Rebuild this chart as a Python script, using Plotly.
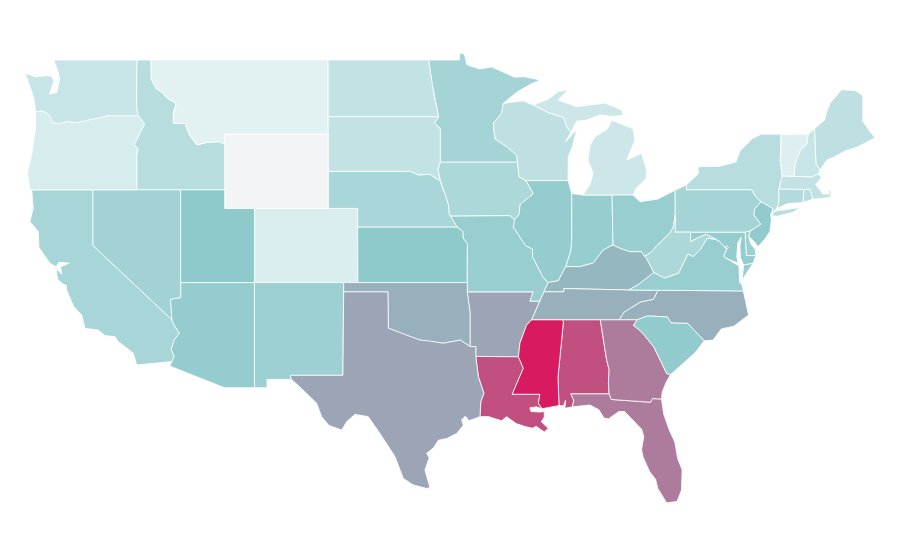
import plotly.graph_objects as go
from plotly.colors import sample_colorscale

states = ['AL', 'AZ', 'AR', 'CA', 'CO', 'CT', 'DE', 'FL', 'GA', 'ID', 'IL', 'IN', 'IA', 'KS', 'KY', 'LA',
          'ME', 'MD', 'MA', 'MI', 'MN', 'MS', 'MO', 'MT', 'NE', 'NV', 'NH', 'NJ', 'NM', 'NY', 'NC', 'ND',
          'OH', 'OK', 'OR', 'PA', 'RI', 'SC', 'SD', 'TN', 'TX', 'UT', 'VT', 'VA', 'WA', 'WV', 'WI', 'WY', 'DC']
values = [85, 46, 60, 36, 10, 30, 42, 72, 72, 28, 46, 45, 33, 49, 55, 85,
          24, 46, 22, 17, 37, 100, 44, 6, 35, 39, 20, 47, 42, 28, 57, 22,
          44, 57, 12, 37, 28, 47, 22, 57, 60, 49, 8, 44, 20, 33, 24, 0, 40]
colorscale = [[0, '#f3f4f6'], [0.02, '#eaf5f6'], [0.5, '#8cc8cb'], [1, '#d81b60']]

# state outlines, rough lon/lat rings (the us basemap is not reachable offline)
WA = [(-124.6, 48.3), (-123.93, 48.1), (-123.03, 48.15), (-122.75, 48.1), (-122.65, 47.85), (-122.95, 47.15), (-122.45, 47.25), (-122.35, 47.7), (-122.25, 48.0), (-122.4, 48.45), (-122.66, 49.0), (-117.03, 49.0), (-117.04, 46.42), (-116.92, 46.0), (-118.98, 46.0), (-119.3, 45.93), (-119.95, 45.83), (-120.6, 45.73), (-121.15, 45.62), (-121.75, 45.7), (-122.3, 45.55), (-122.75, 45.65), (-122.85, 45.9), (-123.15, 46.17), (-123.45, 46.25), (-123.88, 46.21), (-124.0, 46.9), (-124.15, 47.3), (-124.45, 47.9)]
OR = [(-123.88, 46.21), (-123.45, 46.25), (-123.15, 46.17), (-122.85, 45.9), (-122.75, 45.65), (-122.3, 45.55), (-121.75, 45.7), (-121.15, 45.62), (-120.6, 45.73), (-119.95, 45.83), (-119.3, 45.93), (-118.98, 46.0), (-116.92, 46.0), (-116.5, 45.55), (-116.85, 45.0), (-117.2, 44.45), (-116.95, 44.2), (-117.03, 43.83), (-117.03, 42.0), (-124.27, 42.0), (-124.45, 42.9), (-124.15, 43.9), (-124.0, 44.7), (-123.88, 45.4)]
ID = [(-117.03, 49.0), (-116.05, 49.0), (-116.05, 47.97), (-115.72, 47.45), (-115.3, 47.25), (-114.95, 46.93), (-114.35, 46.65), (-114.55, 46.15), (-114.55, 45.59), (-113.76, 45.59), (-113.45, 44.95), (-112.96, 44.42), (-112.3, 44.55), (-111.5, 44.6), (-111.05, 44.48), (-111.05, 42.0), (-117.03, 42.0), (-117.03, 43.83), (-116.95, 44.2), (-117.2, 44.45), (-116.85, 45.0), (-116.5, 45.55), (-116.92, 46.0), (-117.04, 46.42)]
MT = [(-116.05, 49.0), (-104.05, 49.0), (-104.05, 45.0), (-111.05, 45.0), (-111.05, 44.48), (-111.5, 44.6), (-112.3, 44.55), (-112.96, 44.42), (-113.45, 44.95), (-113.76, 45.59), (-114.55, 45.59), (-114.55, 46.15), (-114.35, 46.65), (-114.95, 46.93), (-115.3, 47.25), (-115.72, 47.45), (-116.05, 47.97)]
WY = [(-111.05, 45.0), (-104.05, 45.0), (-104.05, 41.0), (-111.05, 41.0)]
ND = [(-104.05, 49.0), (-97.23, 49.0), (-97.15, 48.5), (-97.05, 47.9), (-96.85, 47.0), (-96.56, 45.94), (-104.05, 45.94)]
SD = [(-104.05, 45.94), (-96.56, 45.94), (-96.85, 45.6), (-96.45, 45.3), (-96.45, 43.5), (-96.6, 43.1), (-96.45, 42.49), (-97.2, 42.85), (-97.9, 42.8), (-98.5, 43.0), (-104.05, 43.0)]
NE = [(-104.05, 43.0), (-98.5, 43.0), (-97.9, 42.8), (-97.2, 42.85), (-96.45, 42.49), (-96.35, 42.2), (-96.1, 41.7), (-95.9, 41.2), (-95.85, 40.7), (-95.77, 40.58), (-95.31, 40.0), (-102.05, 40.0), (-102.05, 41.0), (-104.05, 41.0)]
KS = [(-102.05, 40.0), (-95.31, 40.0), (-94.9, 39.75), (-94.9, 39.4), (-94.61, 39.1), (-94.62, 37.0), (-102.04, 37.0)]
CO = [(-109.05, 41.0), (-102.05, 41.0), (-102.05, 40.0), (-102.04, 37.0), (-109.05, 37.0)]
UT = [(-114.05, 42.0), (-111.05, 42.0), (-111.05, 41.0), (-109.05, 41.0), (-109.05, 37.0), (-114.05, 37.0)]
NV = [(-120.0, 42.0), (-114.05, 42.0), (-114.05, 36.2), (-114.75, 36.1), (-114.65, 35.0), (-120.0, 39.0)]
CA = [(-124.15, 42.0), (-120.0, 42.0), (-120.0, 39.0), (-114.65, 35.0), (-114.57, 34.8), (-114.15, 34.27), (-114.5, 33.9), (-114.7, 33.4), (-114.5, 33.0), (-114.66, 32.74), (-117.03, 32.56), (-117.26, 33.19), (-117.9, 33.6), (-118.28, 33.81), (-118.5, 34.08), (-119.2, 34.15), (-119.63, 34.44), (-120.54, 34.54), (-120.76, 35.25), (-121.3, 35.7), (-121.78, 36.6), (-121.8, 36.85), (-122.1, 36.95), (-122.4, 37.2), (-122.5, 37.75), (-122.1, 37.45), (-122.2, 37.85), (-121.6, 38.05), (-122.3, 38.1), (-122.5, 37.85), (-122.91, 38.04), (-123.66, 38.9), (-123.7, 39.74), (-124.27, 40.29), (-124.05, 41.0), (-124.15, 41.75)]
AZ = [(-114.05, 37.0), (-109.05, 37.0), (-109.05, 31.33), (-111.07, 31.33), (-114.8, 32.5), (-114.66, 32.74), (-114.5, 33.0), (-114.7, 33.4), (-114.5, 33.9), (-114.15, 34.27), (-114.57, 34.8), (-114.65, 35.0), (-114.75, 36.1), (-114.05, 36.2)]
NM = [(-109.05, 37.0), (-103.0, 37.0), (-103.05, 32.0), (-106.62, 32.0), (-106.53, 31.78), (-108.2, 31.78), (-108.2, 31.33), (-109.05, 31.33)]
OK = [(-103.0, 37.0), (-94.62, 37.0), (-94.62, 36.5), (-94.43, 35.4), (-94.43, 33.55), (-95.1, 33.9), (-96.25, 33.73), (-97.2, 33.85), (-97.83, 33.9), (-98.9, 34.2), (-99.97, 34.54), (-100.0, 36.5), (-103.0, 36.5)]
TX = [(-103.0, 36.5), (-100.0, 36.5), (-99.97, 34.54), (-98.9, 34.2), (-97.83, 33.9), (-97.2, 33.85), (-96.25, 33.73), (-95.1, 33.9), (-94.43, 33.55), (-94.04, 33.55), (-94.04, 33.02), (-93.87, 31.93), (-93.49, 31.03), (-93.7, 30.6), (-93.76, 29.77), (-94.5, 29.55), (-94.75, 29.8), (-95.0, 29.6), (-94.89, 29.3), (-95.34, 28.87), (-96.0, 28.6), (-96.58, 28.5), (-96.9, 28.1), (-97.37, 27.8), (-97.2, 27.55), (-97.49, 26.9), (-97.15, 25.96), (-97.37, 25.9), (-98.3, 26.1), (-98.96, 26.45), (-99.52, 27.62), (-100.54, 28.87), (-101.33, 29.77), (-102.23, 29.9), (-102.8, 29.5), (-103.13, 29.05), (-104.0, 29.3), (-104.49, 29.77), (-104.83, 30.5), (-106.0, 31.4), (-106.53, 31.78), (-106.62, 32.0), (-103.05, 32.0)]
MN = [(-97.23, 49.0), (-95.15, 49.0), (-95.15, 49.38), (-94.82, 49.32), (-94.64, 48.74), (-93.8, 48.52), (-92.95, 48.62), (-92.0, 48.3), (-91.4, 48.07), (-90.75, 48.1), (-89.69, 47.92), (-90.3, 47.7), (-91.2, 47.3), (-92.18, 46.66), (-92.3, 46.1), (-92.85, 45.6), (-92.75, 44.75), (-91.9, 44.3), (-91.25, 43.85), (-91.22, 43.5), (-96.45, 43.5), (-96.45, 45.3), (-96.85, 45.6), (-96.56, 45.94), (-96.85, 47.0), (-97.05, 47.9), (-97.15, 48.5)]
IA = [(-96.45, 43.5), (-91.22, 43.5), (-91.1, 42.7), (-90.65, 42.5), (-90.15, 41.8), (-91.05, 41.2), (-91.1, 40.7), (-91.42, 40.38), (-91.73, 40.61), (-95.77, 40.58), (-95.85, 40.7), (-95.9, 41.2), (-96.1, 41.7), (-96.35, 42.2), (-96.45, 42.49), (-96.6, 43.1)]
MO = [(-95.77, 40.58), (-91.73, 40.61), (-91.42, 40.38), (-91.5, 40.0), (-90.7, 39.0), (-90.2, 38.8), (-90.2, 38.4), (-89.9, 37.9), (-89.5, 37.3), (-89.15, 37.0), (-89.42, 36.5), (-89.7, 36.0), (-90.37, 36.0), (-90.15, 36.5), (-94.62, 36.5), (-94.62, 37.0), (-94.61, 39.1), (-94.9, 39.4), (-94.9, 39.75), (-95.31, 40.0)]
AR = [(-94.62, 36.5), (-90.15, 36.5), (-90.37, 36.0), (-89.7, 36.0), (-90.25, 35.0), (-90.6, 34.7), (-91.05, 33.73), (-91.15, 33.0), (-94.04, 33.02), (-94.04, 33.55), (-94.43, 33.55), (-94.43, 35.4)]
LA = [(-94.04, 33.02), (-91.15, 33.0), (-90.82, 32.38), (-91.57, 30.98), (-89.69, 30.98), (-89.8, 30.5), (-89.55, 30.2), (-89.95, 30.3), (-90.37, 30.25), (-90.3, 30.05), (-89.7, 30.02), (-89.4, 30.05), (-89.4, 29.75), (-89.6, 29.5), (-89.13, 29.14), (-89.4, 28.95), (-89.95, 29.25), (-90.2, 29.15), (-90.7, 29.24), (-91.3, 29.4), (-91.95, 29.77), (-92.3, 29.55), (-93.2, 29.78), (-93.76, 29.77), (-93.7, 30.6), (-93.49, 31.03), (-93.87, 31.93)]
MS = [(-90.25, 35.0), (-88.2, 35.0), (-88.1, 34.9), (-88.47, 31.9), (-88.4, 30.37), (-89.55, 30.2), (-89.8, 30.5), (-89.69, 30.98), (-91.57, 30.98), (-90.82, 32.38), (-91.15, 33.0), (-91.05, 33.73), (-90.6, 34.7)]
AL = [(-88.2, 35.0), (-85.6, 35.0), (-85.18, 32.87), (-85.0, 32.3), (-85.05, 31.55), (-85.0, 31.0), (-87.6, 31.0), (-87.4, 30.65), (-87.5, 30.3), (-88.0, 30.23), (-87.95, 30.65), (-88.1, 30.35), (-88.4, 30.37), (-88.47, 31.9), (-88.1, 34.9)]
GA = [(-85.6, 35.0), (-84.32, 35.0), (-83.1, 35.0), (-83.35, 34.7), (-82.75, 34.3), (-81.95, 33.5), (-81.4, 32.6), (-81.1, 32.1), (-80.85, 32.03), (-81.15, 31.6), (-81.4, 31.1), (-81.45, 30.72), (-82.05, 30.75), (-82.2, 30.55), (-84.86, 30.7), (-85.0, 31.0), (-85.05, 31.55), (-85.0, 32.3), (-85.18, 32.87)]
FL = [(-87.6, 31.0), (-85.0, 31.0), (-84.86, 30.7), (-82.2, 30.55), (-82.05, 30.75), (-81.45, 30.72), (-81.3, 29.9), (-80.95, 29.1), (-80.55, 28.4), (-80.35, 27.5), (-80.05, 26.9), (-80.1, 25.8), (-80.4, 25.2), (-81.1, 25.13), (-81.7, 25.9), (-81.85, 26.4), (-82.25, 26.8), (-82.7, 27.6), (-82.8, 28.0), (-82.65, 28.7), (-82.8, 29.1), (-83.4, 29.6), (-83.95, 30.05), (-84.35, 30.05), (-85.05, 29.65), (-85.35, 29.7), (-85.7, 30.15), (-86.3, 30.4), (-87.5, 30.3), (-87.4, 30.65)]
SC = [(-83.1, 35.0), (-82.4, 35.2), (-81.05, 35.15), (-80.8, 34.82), (-79.67, 34.8), (-78.55, 33.86), (-79.2, 33.2), (-79.9, 32.7), (-80.5, 32.3), (-80.85, 32.03), (-81.1, 32.1), (-81.4, 32.6), (-81.95, 33.5), (-82.75, 34.3), (-83.35, 34.7)]
NC = [(-84.32, 35.0), (-83.1, 35.0), (-82.4, 35.2), (-81.05, 35.15), (-80.8, 34.82), (-79.67, 34.8), (-78.55, 33.86), (-77.95, 33.9), (-77.4, 34.5), (-76.55, 34.65), (-75.55, 35.25), (-75.9, 36.55), (-81.68, 36.59), (-82.0, 36.1), (-82.9, 35.95), (-84.0, 35.4)]
TN = [(-90.25, 35.0), (-88.2, 35.0), (-85.6, 35.0), (-84.32, 35.0), (-84.0, 35.4), (-82.9, 35.95), (-82.0, 36.1), (-81.68, 36.59), (-83.68, 36.6), (-88.07, 36.68), (-88.07, 36.5), (-89.42, 36.5), (-89.7, 36.0)]
KY = [(-89.42, 36.5), (-88.07, 36.5), (-88.07, 36.68), (-83.68, 36.6), (-83.1, 36.85), (-81.97, 37.54), (-82.46, 38.3), (-82.6, 38.42), (-82.8, 38.67), (-83.59, 38.67), (-84.25, 38.85), (-84.74, 39.03), (-85.4, 38.76), (-86.09, 38.05), (-86.98, 37.86), (-87.95, 37.86), (-88.45, 37.1), (-89.15, 37.0)]
IL = [(-90.65, 42.5), (-87.78, 42.5), (-87.54, 41.8), (-87.53, 39.35), (-87.6, 38.7), (-87.95, 37.86), (-88.45, 37.1), (-89.15, 37.0), (-89.5, 37.3), (-89.9, 37.9), (-90.2, 38.4), (-90.2, 38.8), (-90.7, 39.0), (-91.5, 40.0), (-91.42, 40.38), (-91.1, 40.7), (-91.05, 41.2), (-90.15, 41.8)]
IN = [(-87.54, 41.8), (-86.77, 41.72), (-84.8, 41.72), (-84.74, 39.03), (-85.4, 38.76), (-86.09, 38.05), (-86.98, 37.86), (-87.95, 37.86), (-87.6, 38.7), (-87.53, 39.35)]
OH = [(-84.8, 41.72), (-83.38, 41.72), (-82.9, 41.36), (-81.7, 41.5), (-80.52, 41.98), (-80.52, 40.64), (-80.65, 40.0), (-80.85, 39.7), (-81.75, 39.0), (-82.2, 38.6), (-82.6, 38.42), (-82.8, 38.67), (-83.59, 38.67), (-84.25, 38.85), (-84.74, 39.03)]
MI_LOWER = [(-86.77, 41.72), (-84.8, 41.72), (-83.38, 41.72), (-83.15, 42.1), (-82.5, 42.6), (-82.46, 43.07), (-82.8, 43.97), (-83.8, 43.61), (-83.25, 44.68), (-83.38, 45.3), (-84.83, 45.75), (-85.1, 45.3), (-85.5, 45.1), (-85.96, 44.86), (-86.3, 44.4), (-86.43, 43.6), (-86.09, 42.9), (-86.3, 42.3)]
MI_UPPER = [(-90.16, 46.57), (-89.1, 46.9), (-88.47, 47.3), (-87.8, 47.38), (-88.47, 46.84), (-87.2, 46.48), (-85.28, 46.68), (-84.15, 46.3), (-84.05, 46.03), (-84.75, 45.95), (-85.6, 46.05), (-86.52, 45.76), (-87.2, 45.7), (-87.6, 45.1), (-87.85, 45.35), (-88.1, 45.9), (-89.1, 46.15)]
WI = [(-92.18, 46.66), (-90.84, 46.8), (-90.16, 46.57), (-89.1, 46.15), (-88.1, 45.9), (-87.85, 45.35), (-87.6, 45.1), (-87.95, 44.6), (-87.2, 45.25), (-87.5, 44.3), (-87.77, 43.79), (-87.78, 42.5), (-90.65, 42.5), (-91.1, 42.7), (-91.22, 43.5), (-91.25, 43.85), (-91.9, 44.3), (-92.75, 44.75), (-92.85, 45.6), (-92.3, 46.1)]
PA = [(-80.52, 41.98), (-79.76, 42.27), (-79.76, 42.0), (-75.35, 42.0), (-75.05, 41.6), (-74.7, 41.36), (-75.13, 40.98), (-75.2, 40.65), (-74.72, 40.15), (-75.4, 39.8), (-75.79, 39.72), (-80.52, 39.72), (-80.52, 40.64)]
NY_MAIN = [(-79.76, 42.27), (-78.96, 42.85), (-78.96, 43.25), (-77.5, 43.27), (-76.4, 43.5), (-76.13, 44.1), (-75.3, 44.75), (-74.7, 45.0), (-73.35, 45.0), (-73.35, 44.0), (-73.4, 43.6), (-73.27, 42.75), (-73.5, 42.05), (-73.5, 41.3), (-73.65, 41.0), (-73.95, 40.75), (-73.9, 41.0), (-74.7, 41.36), (-75.05, 41.6), (-75.35, 42.0), (-79.76, 42.0)]
NY_LONG_ISLAND = [(-74.0, 40.6), (-73.75, 40.85), (-72.6, 40.98), (-72.06, 41.05), (-72.5, 40.8), (-73.6, 40.58)]
NJ = [(-74.7, 41.36), (-73.9, 41.0), (-74.05, 40.65), (-74.0, 40.4), (-74.1, 39.75), (-74.4, 39.4), (-74.9, 38.93), (-75.15, 39.2), (-75.55, 39.5), (-75.4, 39.8), (-74.72, 40.15), (-75.2, 40.65), (-75.13, 40.98)]
DE = [(-75.79, 39.72), (-75.4, 39.8), (-75.55, 39.5), (-75.4, 39.1), (-75.1, 38.8), (-75.05, 38.45), (-75.7, 38.46)]
MD = [(-79.48, 39.72), (-75.79, 39.72), (-75.7, 38.46), (-75.05, 38.45), (-75.25, 38.03), (-75.88, 37.95), (-76.1, 38.35), (-76.13, 39.0), (-76.05, 39.45), (-76.28, 39.15), (-76.35, 38.4), (-76.25, 38.05), (-76.9, 38.25), (-77.25, 38.4), (-77.04, 38.8), (-77.5, 39.2), (-77.75, 39.32), (-78.4, 39.6), (-78.9, 39.45), (-79.48, 39.2)]
DC = [(-77.12, 38.93), (-77.04, 39.0), (-76.91, 38.89), (-77.04, 38.8)]
VA_MAIN = [(-83.68, 36.6), (-81.68, 36.59), (-75.9, 36.55), (-76.0, 36.9), (-76.15, 37.0), (-76.2, 37.9), (-76.9, 38.25), (-77.25, 38.4), (-77.04, 38.8), (-77.5, 39.2), (-77.75, 39.32), (-78.35, 39.4), (-78.85, 38.75), (-79.3, 38.4), (-79.65, 38.55), (-80.3, 37.5), (-81.25, 37.25), (-81.97, 37.54), (-83.1, 36.85)]
VA_SHORE = [(-75.25, 38.03), (-75.88, 37.95), (-75.98, 37.15), (-75.6, 37.6)]
WV = [(-80.52, 40.64), (-80.52, 39.72), (-79.48, 39.72), (-79.48, 39.2), (-78.9, 39.45), (-78.4, 39.6), (-77.75, 39.32), (-78.35, 39.4), (-78.85, 38.75), (-79.3, 38.4), (-79.65, 38.55), (-80.3, 37.5), (-81.25, 37.25), (-81.97, 37.54), (-82.46, 38.3), (-82.6, 38.42), (-82.2, 38.6), (-81.75, 39.0), (-80.85, 39.7), (-80.65, 40.0)]
CT = [(-73.5, 42.05), (-71.8, 42.02), (-71.85, 41.32), (-72.9, 41.25), (-73.65, 41.0), (-73.5, 41.3)]
RI = [(-71.8, 42.02), (-71.38, 42.02), (-71.2, 41.5), (-71.85, 41.32)]
MA = [(-73.27, 42.75), (-72.46, 42.73), (-71.3, 42.7), (-70.82, 42.87), (-70.6, 42.65), (-71.0, 42.3), (-70.65, 41.95), (-70.5, 41.78), (-70.05, 41.78), (-70.2, 42.07), (-69.95, 41.9), (-70.0, 41.6), (-70.65, 41.53), (-71.2, 41.5), (-71.38, 42.02), (-71.8, 42.02), (-73.5, 42.05)]
VT = [(-73.35, 45.0), (-71.5, 45.0), (-71.6, 44.5), (-72.05, 44.1), (-72.4, 43.4), (-72.46, 42.73), (-73.27, 42.75), (-73.4, 43.6), (-73.35, 44.0)]
NH = [(-71.5, 45.0), (-71.08, 45.3), (-70.98, 43.4), (-70.7, 43.07), (-70.82, 42.87), (-71.3, 42.7), (-72.46, 42.73), (-72.4, 43.4), (-72.05, 44.1), (-71.6, 44.5)]
ME = [(-71.08, 45.3), (-70.4, 45.75), (-70.25, 46.2), (-70.0, 46.7), (-69.24, 47.4), (-68.3, 47.35), (-67.8, 47.07), (-67.8, 45.7), (-67.45, 45.3), (-66.98, 44.8), (-68.2, 44.3), (-69.0, 44.1), (-69.8, 43.75), (-70.25, 43.6), (-70.7, 43.07), (-70.98, 43.4)]

outlines = {'WA': [WA], 'OR': [OR], 'ID': [ID], 'MT': [MT], 'WY': [WY], 'ND': [ND], 'SD': [SD], 'NE': [NE], 'KS': [KS],
            'CO': [CO], 'UT': [UT], 'NV': [NV], 'CA': [CA], 'AZ': [AZ], 'NM': [NM], 'OK': [OK], 'TX': [TX], 'MN': [MN],
            'IA': [IA], 'MO': [MO], 'AR': [AR], 'LA': [LA], 'MS': [MS], 'AL': [AL], 'GA': [GA], 'FL': [FL], 'SC': [SC],
            'NC': [NC], 'TN': [TN], 'KY': [KY], 'IL': [IL], 'IN': [IN], 'OH': [OH], 'MI': [MI_LOWER, MI_UPPER], 'WI': [WI],
            'PA': [PA], 'NY': [NY_MAIN, NY_LONG_ISLAND], 'NJ': [NJ], 'DE': [DE], 'MD': [MD], 'DC': [DC],
            'VA': [VA_MAIN, VA_SHORE], 'WV': [WV], 'CT': [CT], 'RI': [RI], 'MA': [MA], 'VT': [VT], 'NH': [NH], 'ME': [ME]}

fig = go.Figure()
for code, value in zip(states, values):
    lons, lats = [], []
    for ring in outlines[code]:
        lons += [p[0] for p in ring] + [ring[0][0], None]
        lats += [p[1] for p in ring] + [ring[0][1], None]
    fig.add_trace(go.Scatter(
        x=lons,
        y=lats,
        mode='lines',
        fill='toself',
        fillcolor=sample_colorscale(colorscale, value / 100)[0],
        line=dict(color='#ffffff', width=0.8),
        name=code,
        hovertemplate=f'{code}: {value}<extra></extra>',
    ))

# the page has an 8px body margin, so the plot is 892x552 inside the 900x560 window
fig.update_xaxes(visible=False, range=[-125.758, -65.28])
fig.update_yaxes(visible=False, range=[22.045, 51.803])
fig.update_layout(
    paper_bgcolor='#ffffff',
    plot_bgcolor='#ffffff',
    showlegend=False,
    margin=dict(l=0, r=0, t=0, b=0),
    width=892,
    height=552,
)
fig.write_html('out.html')
